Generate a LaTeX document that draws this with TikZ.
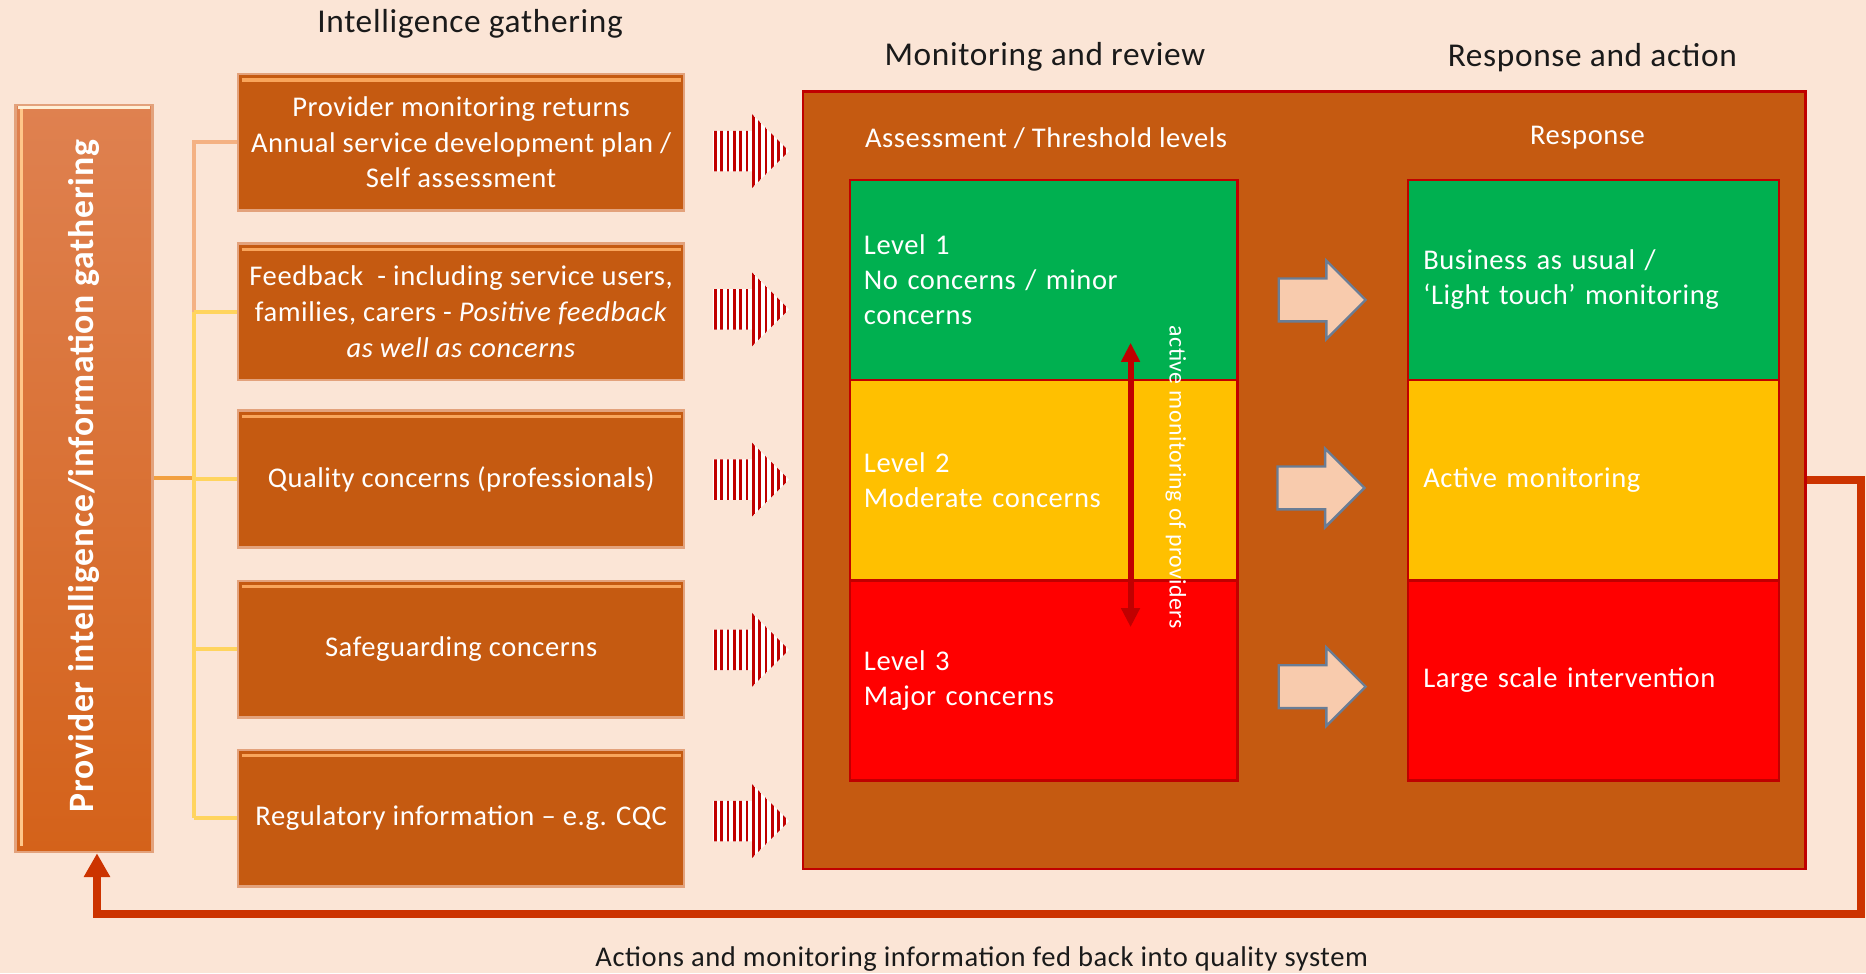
\documentclass[tikz,border=0pt]{standalone}
\usepackage{fontspec}
\setmainfont{Carlito}[LetterSpace=2]
\usetikzlibrary{arrows.meta,shapes.arrows,calc}

\definecolor{bgpeach}{HTML}{FBE5D6}
\definecolor{rust}{HTML}{C55A11}
\definecolor{darkred}{HTML}{C00000}
\definecolor{lvgreen}{HTML}{00B050}
\definecolor{lvamber}{HTML}{FFC000}
\definecolor{lvred}{HTML}{FF0000}
\definecolor{fbred}{HTML}{CC3300}
\definecolor{peachfill}{HTML}{F8CBAD}
\definecolor{arrowedge}{HTML}{6A7D95}
\definecolor{boxedge}{HTML}{E3A27C}
\definecolor{bandtop}{HTML}{F9A55B}
\definecolor{coltop}{HTML}{DF8150}
\definecolor{colbottom}{HTML}{D4621A}
\definecolor{bevelcream}{HTML}{FFEFD6}
\definecolor{bevelside}{HTML}{FFC78A}
\definecolor{linksalmon}{HTML}{F4B183}
\definecolor{linkgold}{HTML}{FFD45E}
\definecolor{linkorange}{HTML}{F2A041}
\definecolor{inktext}{HTML}{1A1A1A}

\tikzset{
  heading/.style={text=inktext, font=\fontsize{28}{32}\selectfont, inner sep=0pt},
  srcbox/.style={draw=boxedge, line width=2pt, fill=rust, minimum width=375pt,
    minimum height=115pt, text=white, align=center, inner sep=0pt,
    font=\fontsize{24}{30}\selectfont},
  band/.style={bandtop, line width=3pt},
  cell/.style={draw=darkred, line width=2pt, minimum height=168.3pt, text=white,
    align=left, font=\fontsize{24}{29.5}\selectfont},
  lcell/.style={cell, minimum width=326pt, text width=302pt, inner xsep=12pt},
  rcell/.style={cell, minimum width=312pt, text width=286pt, inner xsep=13pt},
  link/.style={line width=3.5pt},
  blockarrow/.style={single arrow, draw=arrowedge, line width=2pt, fill=peachfill,
    minimum height=73pt, inner xsep=0pt, inner ysep=17pt,
    single arrow head extend=15pt},
  feedback/.style={fbred, line width=6.5pt, -{Triangle[width=21pt,length=20pt]}},
}

\begin{document}
\begin{tikzpicture}[x=1pt,y=-1pt]
  % canvas
  \fill[bgpeach] (0,0) rectangle (1568,818);
  \useasboundingbox (0,0) rectangle (1568,818);

  % column headings
  \node[heading] (ig) at (395,20) {Intelligence gathering};
  \node[heading] (mr) at (878,48) {Monitoring and review};
  \node[heading] (ra) at (1338,48) {Response and action};

  % provider intelligence column
  \node[draw=boxedge, line width=2pt, top color=coltop, bottom color=colbottom,
        minimum width=115pt, minimum height=628pt] (lbox) at (70.5,402) {};
  \draw[bevelcream, line width=2.5pt] ($(lbox.north west)+(3,3)$) -- ($(lbox.north east)+(-3,3)$);
  \draw[bevelside, line width=2.5pt] ($(lbox.north west)+(6,5)$) -- ($(lbox.south west)+(6,-6)$);
  \node[rotate=90, text=white, font=\bfseries\fontsize{30}{34}\selectfont]
        (lbl) at ($(lbox.center)+(0,-2)$) {Provider intelligence/information gathering};

  % intelligence sources
  \node[srcbox] (b1) at (387.5,119.5) {Provider monitoring returns\\Annual service development plan /\\Self assessment};
  \node[srcbox] (b2) at (387.5,262) {Feedback \ - including service users,\\families, carers - \textit{Positive feedback}\\\textit{as well as concerns}};
  \node[srcbox] (b3) at (387.5,402.5) {Quality concerns (professionals)};
  \node[srcbox] (b4) at (387.5,545.5) {Safeguarding concerns};
  \node[srcbox] (b5) at (387.5,687.5) {Regulatory information -- e.g. CQC};
  \foreach \b in {b1,b2,b3,b4,b5}
    \draw[band] ($(\b.north west)+(4,6)$) -- ($(\b.north east)+(-4,6)$);

  % tree of links from the column to the sources
  \coordinate (tx) at (163,0);
  \draw[link, linkorange] (lbox.east) -- (lbox.east -| tx);
  \draw[link, linksalmon] (b1.west) -- (b1.west -| tx) -- (b2.west -| tx);
  \draw[link, linkgold] (b2.west -| tx) -- (b5.west -| tx);
  \foreach \b in {b2,b3,b4,b5}
    \draw[link, linkgold] (\b.west) -- (\b.west -| tx);

  % striped arrows into the monitoring panel: red bars on a white ground
  \foreach \cy in {127,260,403,546,690} {
    \begin{scope}
      \clip (599,\cy-17) -- (632,\cy-17) -- (632,\cy-31) -- (663,\cy)
            -- (632,\cy+31) -- (632,\cy+17) -- (599,\cy+17) -- cycle;
      \fill[white] (598,\cy-40) rectangle (664,\cy+40);
      \foreach \sx in {601.2,606.5,...,662}
        \draw[darkred, line width=2.3pt] (\sx,\cy-40) -- (\sx,\cy+40);
    \end{scope}
  }

  % monitoring and response panel
  \node[draw=darkred, line width=2pt, fill=rust, minimum width=842pt,
        minimum height=653pt] (big) at (1096,403.5) {};
  \node[text=white, font=\fontsize{24}{28}\selectfont] (asl) at (879,116) {Assessment / Threshold levels};
  \node[text=white, font=\fontsize{24}{28}\selectfont] (rsl) at (1334,116) {Response};

  % threshold levels
  \node[lcell, fill=lvgreen] (l1) at (877,235.2) {Level 1\\No concerns / minor\\concerns};
  \node[lcell, fill=lvamber] (l2) at (877,403.5) {Level 2\\Moderate concerns};
  \node[lcell, fill=lvred]   (l3) at (877,571.8) {Level 3\\Major concerns};

  % responses
  \node[rcell, fill=lvgreen] (r1) at (1339,235.2) {Business as usual /\\‘Light touch’ monitoring};
  \node[rcell, fill=lvamber] (r2) at (1339,403.5) {Active monitoring};
  \node[rcell, fill=lvred]   (r3) at (1339,571.8) {Large scale intervention};

  % escalation between levels
  \coordinate (up) at (950,288);
  \coordinate (dn) at (950,527);
  \draw[darkred, line width=5pt, {Triangle[width=15pt,length=16pt]}-{Triangle[width=15pt,length=16pt]}] (up) -- (dn);
  \node[rotate=-90, text=white, font=\fontsize{20}{24}\selectfont] (amp) at (988,401) {active monitoring of providers};

  % level to response arrows
  \node[blockarrow] (a1) at (1102,252) {};
  \node[blockarrow] (a2) at (1101,410) {};
  \node[blockarrow] (a3) at (1102,577) {};

  % feedback loop
  \coordinate (fbc) at (1564,768);
  \draw[feedback] (big.east) -| (fbc) -| ($(lbox.south)+(11,0)$);
  \node[text=inktext, font=\fontsize{24}{28}\selectfont] (fbt) at (825,806)
    {Actions and monitoring information fed back into quality system};
\end{tikzpicture}
\end{document}
